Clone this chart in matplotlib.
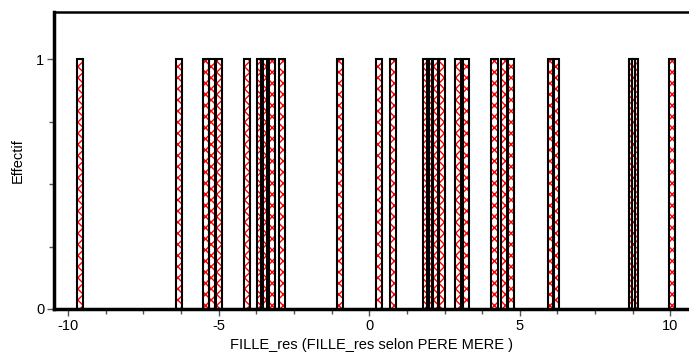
import numpy as np
import matplotlib.pyplot as plt
from matplotlib.ticker import MultipleLocator

# Residual values (one observation per bar)
residus = [-9.6, -6.32, -5.42, -5.23, -5.0, -4.06, -3.63, -3.5, -3.23, -2.9,
           -0.96, 0.32, 0.8, 1.88, 2.03, 2.2, 2.43, 2.95, 3.2,
           4.16, 4.47, 4.72, 6.03, 6.2, 8.72, 8.84, 10.04]
effectifs = [1] * len(residus)
x_ticks = [-10, -5, 0, 5, 10]
y_ticks = [0, 1]

plt.rcParams['font.family'] = ['Liberation Sans', 'DejaVu Sans']
plt.rcParams['axes.unicode_minus'] = False
plt.rcParams['hatch.linewidth'] = 1.0

fig = plt.figure(figsize=(6.89, 3.63), dpi=100)
ax = fig.add_axes([0.0784, 0.1488, 0.9216, 0.818])

bar_w = 0.2
# Red hatching first, then black outlines on top
ax.bar(residus, effectifs, width=bar_w, color='white', edgecolor='red',
       hatch='xxx', linewidth=0, zorder=2)
ax.bar(residus, effectifs, width=bar_w, facecolor='none', edgecolor='black',
       linewidth=1.5, zorder=3)

ax.set_xlim(-10.47, 10.62)
ax.set_ylim(0, 1.19)
ax.set_xticks(x_ticks)
ax.set_yticks(y_ticks)
ax.xaxis.set_minor_locator(MultipleLocator(1.25))
ax.yaxis.set_minor_locator(MultipleLocator(0.25))
ax.tick_params(axis='both', which='major', length=5, width=1, color='#555555',
               labelsize=10.5, pad=2)
ax.tick_params(axis='both', which='minor', length=3.5, width=1, color='#555555')

ax.spines['right'].set_visible(False)
ax.spines['left'].set_linewidth(2.5)
ax.spines['bottom'].set_linewidth(2.5)
ax.spines['top'].set_linewidth(1.8)
ax.spines['bottom'].set_zorder(4)

ax.set_xlabel('FILLE_res (FILLE_res selon PERE MERE )', fontsize=10.5, labelpad=4)
ax.set_ylabel('Effectif', fontsize=10.5, labelpad=8)

fig.savefig('out.png', dpi=100)
